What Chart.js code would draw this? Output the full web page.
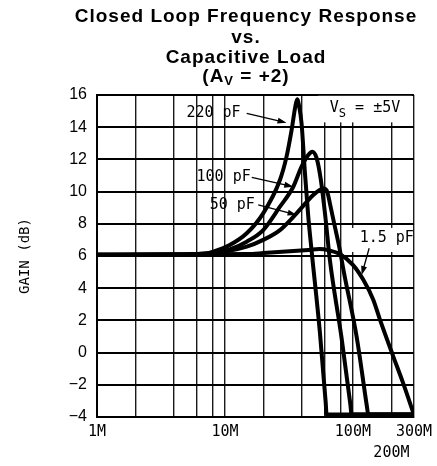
<!DOCTYPE html>
<html>
<head>
<meta charset="utf-8">
<script src="https://cdn.jsdelivr.net/npm/chart.js@4.4.0/dist/chart.umd.min.js"></script>
<style>
    html, body { margin: 0; padding: 0; background: #fff; }
    canvas { display: block; }
</style>
</head>
<body>
<canvas id="GraphiqueGain" width="437" height="466"></canvas>
<script>
// frequences en MHz, gain en dB
var freq220 = [1, 5, 7, 8.1, 10.9, 14.8, 19.9, 26.9, 30.3, 33.2, 35.5, 36.7, 38, 39.7, 42.2, 44.8, 47.5, 55.3, 61.3, 62.3, 300];
var gain220 = [6.08, 6.1, 6.15, 6.27, 6.68, 7.41, 8.65, 10.72, 12.17, 13.83, 15.3, 15.73, 15.3, 14.24, 11.14, 8.45, 6.37, 1.2, -3.1, -3.85, -3.85];

var freq100 = [1, 5, 8.1, 10.9, 14.8, 19.9, 26.9, 34.2, 39.7, 44.8, 48.1, 52, 56, 61, 66.1, 81.6, 95.5, 97.7, 300];
var gain100 = [6.08, 6.1, 6.2, 6.41, 6.89, 7.61, 9.06, 10.3, 11.55, 12.27, 12.48, 12.1, 10.8, 8.4, 5.75, 0.9, -3.2, -3.85, -3.85];

var freq50 = [1, 5, 8.1, 14.8, 19.9, 26.9, 36.3, 49, 55, 59.3, 63, 66.1, 72.3, 79.1, 85, 106.9, 129, 131.8, 300];
var gain50 = [6.08, 6.1, 6.17, 6.58, 7.0, 7.61, 8.65, 9.79, 10.1, 10.2, 10.0, 9.27, 7.82, 6.37, 5.0, 1.0, -3.4, -3.85, -3.85];

var freq1p5 = [1, 15, 20, 30, 45, 55, 65, 79, 100, 120, 144, 162, 206, 247, 300];
var gain1p5 = [6.08, 6.12, 6.18, 6.28, 6.38, 6.43, 6.35, 6.12, 5.45, 4.55, 3.3, 2.1, -0.2, -1.9, -3.85];

var xGrille = [1, 2, 4, 6, 8, 10, 20, 40, 60, 80, 100, 200, 300];
var xEtiquettes = { 1: '1M', 10: '10M', 100: '100M', 200: ['', '200M'], 300: '300M' };
var yMin = -4;
var yMax = 16;
var yPas = 2;

var etiquettes = ['220 pF', '100 pF', '50 pF', '1.5 pF'];

function GetPoints(freqs, gains) {
    return freqs.map(function (f, i) {
        return { x: f, y: gains[i] };
    });
}

function GetCourbe(freqs, gains) {
    return {
        data: GetPoints(freqs, gains),
        borderColor: '#000',
        borderWidth: 4,
        pointRadius: 0,
        fill: false,
        cubicInterpolationMode: 'monotone'
    };
}

function DessinerFleche(ctx, x1, y1, x2, y2) {
    var angle = Math.atan2(y2 - y1, x2 - x1);
    ctx.beginPath();
    ctx.moveTo(x1, y1);
    ctx.lineTo(x2 - 6 * Math.cos(angle), y2 - 6 * Math.sin(angle));
    ctx.stroke();
    ctx.beginPath();
    ctx.moveTo(x2, y2);
    ctx.lineTo(x2 - 9 * Math.cos(angle) + 3 * Math.sin(angle), y2 - 9 * Math.sin(angle) - 3 * Math.cos(angle));
    ctx.lineTo(x2 - 9 * Math.cos(angle) - 3 * Math.sin(angle), y2 - 9 * Math.sin(angle) + 3 * Math.cos(angle));
    ctx.closePath();
    ctx.fill();
}

// annotations placees en unites des axes (MHz, dB)
var annotations = [
    { texte: 0, x: 5.0, y: 14.85, de: [14.8, 14.86], a: [30.3, 14.28] },
    { texte: 1, x: 6.0, y: 10.93, de: [16.2, 10.89], a: [34.2, 10.3] },
    { texte: 2, x: 7.6, y: 9.17, de: [18.2, 9.17], a: [36.3, 8.55] },
    { texte: 3, x: 113, y: 7.1, de: [134, 6.48], a: [117, 4.82] }
];

var pluginAnnotations = {
    id: 'annotations',
    beforeDatasetsDraw: function (chart) {
        var ctx = chart.ctx;
        var sx = chart.scales.x;
        var sy = chart.scales.y;
        ctx.save();
        // cadres blancs sous les etiquettes
        ctx.fillStyle = '#fff';
        ctx.fillRect(sx.getPixelForValue(53.3), sy.getPixelForValue(15.95), sx.getPixelForValue(289) - sx.getPixelForValue(53.3), sy.getPixelForValue(14.3) - sy.getPixelForValue(15.95));
        ctx.fillRect(sx.getPixelForValue(91.4), sy.getPixelForValue(7.74), sx.getPixelForValue(294) - sx.getPixelForValue(91.4), sy.getPixelForValue(6.25) - sy.getPixelForValue(7.74));

        ctx.fillStyle = '#000';
        ctx.strokeStyle = '#000';
        ctx.lineWidth = 1.3;
        ctx.font = '15px "DejaVu Sans Mono"';
        ctx.textBaseline = 'middle';
        ctx.textAlign = 'left';
        annotations.forEach(function (a) {
            ctx.fillText(etiquettes[a.texte], sx.getPixelForValue(a.x), sy.getPixelForValue(a.y));
            DessinerFleche(ctx, sx.getPixelForValue(a.de[0]), sy.getPixelForValue(a.de[1]), sx.getPixelForValue(a.a[0]), sy.getPixelForValue(a.a[1]));
        });

        // V_S = ±5V
        var vx = sx.getPixelForValue(66);
        var vy = sy.getPixelForValue(15.17);
        ctx.fillText('V', vx, vy);
        var w = ctx.measureText('V').width;
        ctx.font = '12px "DejaVu Sans Mono"';
        ctx.fillText('S', vx + w, vy + 6);
        var ws = ctx.measureText('S').width;
        ctx.font = '15px "DejaVu Sans Mono"';
        ctx.fillText(' = \u00b15V', vx + w + ws, vy);
        ctx.restore();
    },
    afterDraw: function (chart) {
        var ctx = chart.ctx;
        ctx.save();
        ctx.fillStyle = '#000';
        ctx.font = 'bold 19px "Liberation Sans"';
        if ('letterSpacing' in ctx) ctx.letterSpacing = '1px';
        ctx.textAlign = 'center';
        ctx.textBaseline = 'alphabetic';
        var cx = 246;
        ctx.fillText('Closed Loop Frequency Response', cx, 21.7);
        ctx.fillText('vs.', cx, 43.3);
        ctx.fillText('Capacitive Load', cx, 63.3);

        // (A_V = +2)
        ctx.textAlign = 'left';
        var p1 = '(A', p2 = 'V', p3 = ' = +2)';
        var w1 = ctx.measureText(p1).width;
        var w3 = ctx.measureText(p3).width;
        ctx.font = 'bold 13px "Liberation Sans"';
        var w2 = ctx.measureText(p2).width;
        var x0 = cx - (w1 + w2 + w3) / 2;
        ctx.font = 'bold 19px "Liberation Sans"';
        ctx.fillText(p1, x0, 81.7);
        ctx.font = 'bold 13px "Liberation Sans"';
        ctx.fillText(p2, x0 + w1, 85);
        ctx.font = 'bold 19px "Liberation Sans"';
        ctx.fillText(p3, x0 + w1 + w2, 81.7);
        ctx.restore();
    }
};

var ctx = document.getElementById('GraphiqueGain').getContext('2d');

var graphique = new Chart(ctx, {
    type: 'line',
    data: {
        datasets: [
            GetCourbe(freq220, gain220),
            GetCourbe(freq100, gain100),
            GetCourbe(freq50, gain50),
            GetCourbe(freq1p5, gain1p5)
        ]
    },
    options: {
        responsive: false,
        animation: false,
        layout: { padding: { top: 95, right: 23, left: 0, bottom: 0 } },
        plugins: {
            legend: { display: false },
            tooltip: { enabled: false },
            title: { display: false }
        },
        scales: {
            x: {
                type: 'logarithmic',
                min: 1,
                max: 300,
                afterBuildTicks: function (scale) {
                    scale.ticks = xGrille.map(function (v) { return { value: v }; });
                },
                afterFit: function (scale) { scale.height = 49; },
                ticks: {
                    autoSkip: false,
                    maxRotation: 0,
                    minRotation: 0,
                    padding: 5,
                    color: '#000',
                    font: { family: 'DejaVu Sans Mono', size: 15, lineHeight: 1.4 },
                    callback: function (v) { return xEtiquettes[v] || ''; }
                },
                grid: { color: '#1a1a1a', lineWidth: 1.4, drawTicks: false },
                border: { color: '#000', width: 2 }
            },
            y: {
                type: 'linear',
                min: yMin,
                max: yMax,
                afterFit: function (scale) { scale.width = 97; },
                ticks: {
                    stepSize: yPas,
                    padding: 10,
                    color: '#000',
                    font: { family: 'Liberation Sans', size: 16 },
                    callback: function (v) { return v < 0 ? '\u2212' + Math.abs(v) : '' + v; }
                },
                grid: { color: '#000', lineWidth: 2, drawTicks: false },
                border: { color: '#000', width: 2 },
                title: {
                    display: true,
                    text: 'GAIN (dB)',
                    color: '#000',
                    font: { family: 'DejaVu Sans Mono', size: 14 },
                    padding: { top: 17, bottom: 0 }
                }
            }
        }
    },
    plugins: [pluginAnnotations]
});
</script>
</body>
</html>
